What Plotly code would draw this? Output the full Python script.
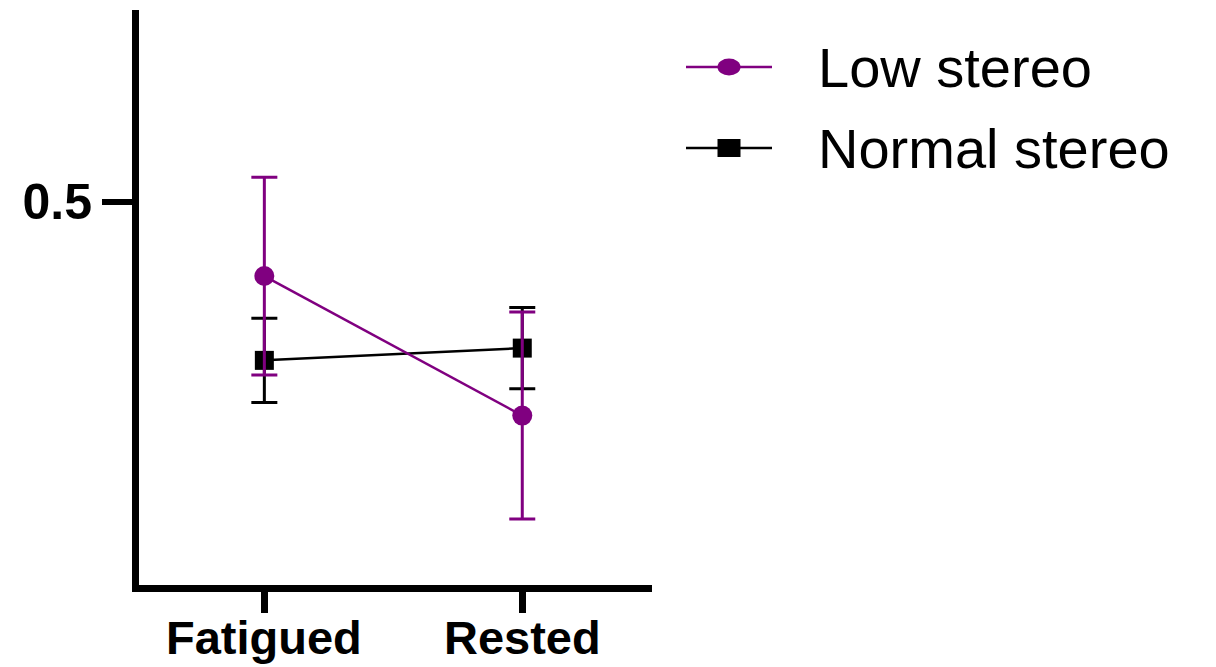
import plotly.graph_objects as go

# ---- data ----
conditions = ["Fatigued", "Rested"]
low_stereo_mean = [0.403, 0.221]
low_stereo_err = [0.129, 0.135]
normal_stereo_mean = [0.293, 0.309]
normal_stereo_err = [0.055, 0.053]
series_names = ["Low stereo", "Normal stereo"]
y_ticks = [0.5]

PURPLE = "#800080"
BLACK = "#000000"
FONT = "Liberation Sans"

W, H = 1216, 667
L, R, T, B = 139, W - 652, 10, H - 585

fig = go.Figure()

fig.add_trace(go.Scatter(
    x=conditions, y=normal_stereo_mean, name=series_names[1],
    mode="lines+markers",
    line=dict(color=BLACK, width=2.5),
    marker=dict(symbol="square", size=19, color=BLACK),
    error_y=dict(type="data", array=normal_stereo_err, visible=True,
                 color=BLACK, thickness=3, width=13),
    showlegend=False,
))
fig.add_trace(go.Scatter(
    x=conditions, y=low_stereo_mean, name=series_names[0],
    mode="lines+markers",
    line=dict(color=PURPLE, width=2.5),
    marker=dict(symbol="circle", size=20, color=PURPLE),
    error_y=dict(type="data", array=low_stereo_err, visible=True,
                 color=PURPLE, thickness=3, width=13),
    showlegend=False,
))

# ---- pixel helpers -> paper coords ----
pw, ph = W - L - R, H - T - B
def px(x):
    return (x - L) / pw
def py(y):
    return (H - B - y) / ph

shapes = []
annotations = []

# category labels (placed at the category positions of the x axis)
for cond in conditions:
    annotations.append(dict(text=cond, xref="x", yref="paper",
                            x=cond, y=py(666), xanchor="center", yanchor="bottom",
                            showarrow=False,
                            font=dict(family=FONT, size=47, color=BLACK, weight="bold")))

# custom legend
legend_rows = [(series_names[0], PURPLE, "circle", 67),
               (series_names[1], BLACK, "square", 148)]
for name, col, sym, yc in legend_rows:
    shapes.append(dict(type="line", xref="paper", yref="paper",
                       x0=px(686), x1=px(772), y0=py(yc), y1=py(yc),
                       line=dict(color=col, width=2.5)))
    if sym == "circle":
        shapes.append(dict(type="circle", xref="paper", yref="paper",
                           x0=px(729 - 11.5), x1=px(729 + 11.5),
                           y0=py(yc - 8.5), y1=py(yc + 8.5),
                           fillcolor=col, line=dict(color=col, width=0)))
    else:
        shapes.append(dict(type="rect", xref="paper", yref="paper",
                           x0=px(729 - 11.5), x1=px(729 + 11.5),
                           y0=py(yc - 9), y1=py(yc + 9),
                           fillcolor=col, line=dict(color=col, width=0)))
    annotations.append(dict(text=name, xref="paper", yref="paper",
                            x=px(816), y=py(yc), xanchor="left", yanchor="middle",
                            showarrow=False,
                            font=dict(family=FONT, size=56, color=BLACK)))

fig.update_layout(
    width=W, height=H,
    margin=dict(l=L, r=R, t=T, b=B, pad=0),
    paper_bgcolor="white", plot_bgcolor="white",
    shapes=shapes, annotations=annotations,
    showlegend=False,
    xaxis=dict(type="category", range=[-0.486, 1.503], automargin=False,
               showline=True, linecolor=BLACK, linewidth=7,
               showgrid=False, zeroline=False, showticklabels=False,
               ticks="outside", ticklen=21, tickwidth=7, tickcolor=BLACK),
    yaxis=dict(range=[0, 0.75], automargin=False,
               tickvals=y_ticks, ticktext=["0.5"],
               showline=True, linecolor=BLACK, linewidth=7,
               showgrid=False, zeroline=False,
               ticks="outside", ticklen=30, tickwidth=6, tickcolor=BLACK,
               tickfont=dict(family=FONT, size=50, color=BLACK, weight="bold")),
)

fig.write_html("out.html")
